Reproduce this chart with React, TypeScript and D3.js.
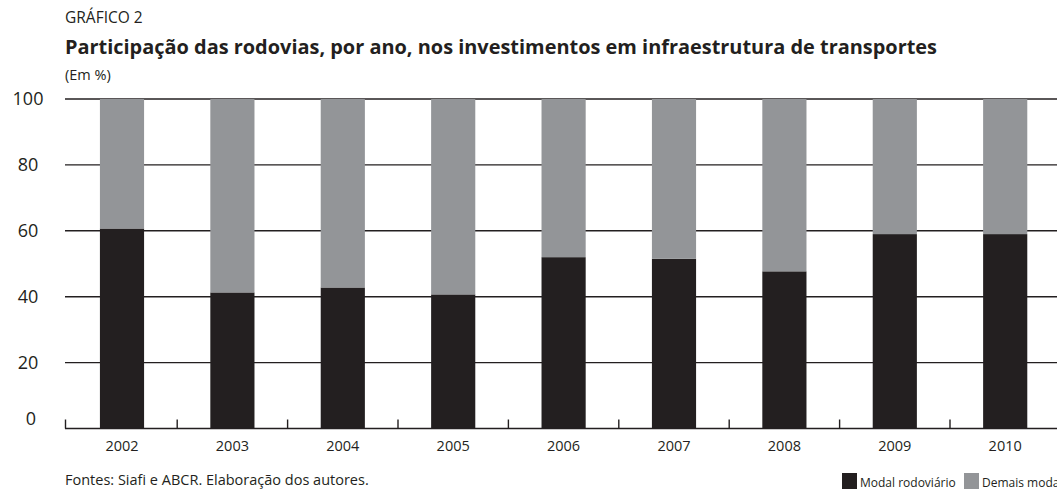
import React, { useRef, useEffect } from "react";
import * as d3 from "d3";

const years = ["2002", "2003", "2004", "2005", "2006", "2007", "2008", "2009", "2010"];
const rodoviario = [60.7, 41.3, 42.8, 40.7, 52.0, 51.5, 47.7, 59.0, 59.0];
const demais = [39.3, 58.7, 57.2, 59.3, 48.0, 48.5, 52.3, 41.0, 41.0];
const yTicks = [0, 20, 40, 60, 80, 100];
const seriesNames = ["Modal rodoviário", "Demais modais"];

const DARK = "#231f20";
const GRAY = "#939598";
const FONT = "'Open Sans', 'Noto Sans', sans-serif";

const App = () => {
  const chartRef = useRef<SVGSVGElement | null>(null);

  useEffect(() => {
    const width = 1057;
    const svg = d3.select(chartRef.current);
    svg.selectAll("*").remove();

    const axisLeft = 65;
    const y = d3.scaleLinear().domain([0, 100]).range([428.5, 99]);
    const x = d3
      .scaleBand()
      .domain(years)
      .range([66.8, 1060.4])
      .paddingInner(0.6)
      .paddingOuter(0.3);
    const step = x.step();

    // titulos
    svg
      .append("text")
      .attr("x", axisLeft)
      .attr("y", 23)
      .attr("font-size", "15.5px")
      .attr("fill", DARK)
      .text("GRÁFICO 2");
    svg
      .append("text")
      .attr("x", axisLeft)
      .attr("y", 54)
      .attr("font-size", "20px")
      .attr("font-weight", "bold")
      .attr("fill", DARK)
      .attr("textLength", 872)
      .attr("lengthAdjust", "spacingAndGlyphs")
      .text("Participação das rodovias, por ano, nos investimentos em infraestrutura de transportes");
    svg
      .append("text")
      .attr("x", axisLeft)
      .attr("y", 80)
      .attr("font-size", "14.5px")
      .attr("fill", DARK)
      .text("(Em %)");

    // grade
    svg
      .append("g")
      .selectAll("line")
      .data(yTicks.filter((d) => d > 0))
      .join("line")
      .attr("x1", axisLeft)
      .attr("x2", width)
      .attr("y1", (d) => y(d))
      .attr("y2", (d) => y(d))
      .attr("stroke", DARK)
      .attr("stroke-width", 1.4);

    svg
      .append("g")
      .attr("font-size", "18px")
      .attr("fill", DARK)
      .attr("text-anchor", "middle")
      .selectAll("text")
      .data(yTicks)
      .join("text")
      .attr("x", (d) => (d === 0 ? 31 : 28))
      .attr("y", (d) => (d === 0 ? y(d) - 10 : y(d)))
      .attr("dy", "0.35em")
      .text((d) => d);

    // barras empilhadas
    const bw = x.bandwidth();
    svg
      .append("g")
      .selectAll("rect")
      .data(years)
      .join("rect")
      .attr("x", (d) => x(d)!)
      .attr("width", bw)
      .attr("y", (d, i) => y(rodoviario[i]))
      .attr("height", (d, i) => y(0) - y(rodoviario[i]))
      .attr("fill", DARK);
    svg
      .append("g")
      .selectAll("rect")
      .data(years)
      .join("rect")
      .attr("x", (d) => x(d)!)
      .attr("width", bw)
      .attr("y", (d, i) => y(rodoviario[i] + demais[i]))
      .attr("height", (d, i) => y(rodoviario[i]) - y(rodoviario[i] + demais[i]))
      .attr("fill", GRAY);

    // eixo x
    const axisY = y(0);
    svg
      .append("line")
      .attr("x1", axisLeft)
      .attr("x2", width)
      .attr("y1", axisY)
      .attr("y2", axisY)
      .attr("stroke", DARK)
      .attr("stroke-width", 1.6);
    const tickXs = years.map((d) => x(d)! + bw / 2 - step / 2);
    tickXs.push(x(years[years.length - 1])! + bw / 2 + step / 2);
    svg
      .append("g")
      .selectAll("line")
      .data(tickXs.map((t, i) => (i === 0 ? axisLeft + 0.5 : t)))
      .join("line")
      .attr("x1", (d) => d)
      .attr("x2", (d) => d)
      .attr("y1", axisY - 9)
      .attr("y2", axisY)
      .attr("stroke", DARK)
      .attr("stroke-width", 1.4);

    svg
      .append("g")
      .attr("font-size", "14.5px")
      .attr("fill", DARK)
      .attr("text-anchor", "middle")
      .selectAll("text")
      .data(years)
      .join("text")
      .attr("x", (d) => x(d)! + bw / 2)
      .attr("y", 451)
      .text((d) => d);

    // fonte
    svg
      .append("text")
      .attr("x", axisLeft)
      .attr("y", 485)
      .attr("font-size", "14.5px")
      .attr("fill", DARK)
      .text("Fontes: Siafi e ABCR. Elaboração dos autores.");

    // legenda
    const legendX = [842, 964];
    const legend = svg
      .append("g")
      .selectAll("g")
      .data(seriesNames)
      .join("g")
      .attr("transform", (d, i) => `translate(${legendX[i]},473)`);
    legend
      .append("rect")
      .attr("width", 15)
      .attr("height", 16)
      .attr("fill", (d, i) => (i === 0 ? DARK : GRAY));
    legend
      .append("text")
      .attr("x", 18)
      .attr("y", 14)
      .attr("font-size", "12px")
      .attr("fill", DARK)
      .text((d) => d);
  }, []);

  return (
    <svg
      ref={chartRef}
      width={1057}
      height={490}
      style={{ position: "absolute", left: 0, top: 0, background: "#fff", fontFamily: FONT }}
    />
  );
};

export default App;
